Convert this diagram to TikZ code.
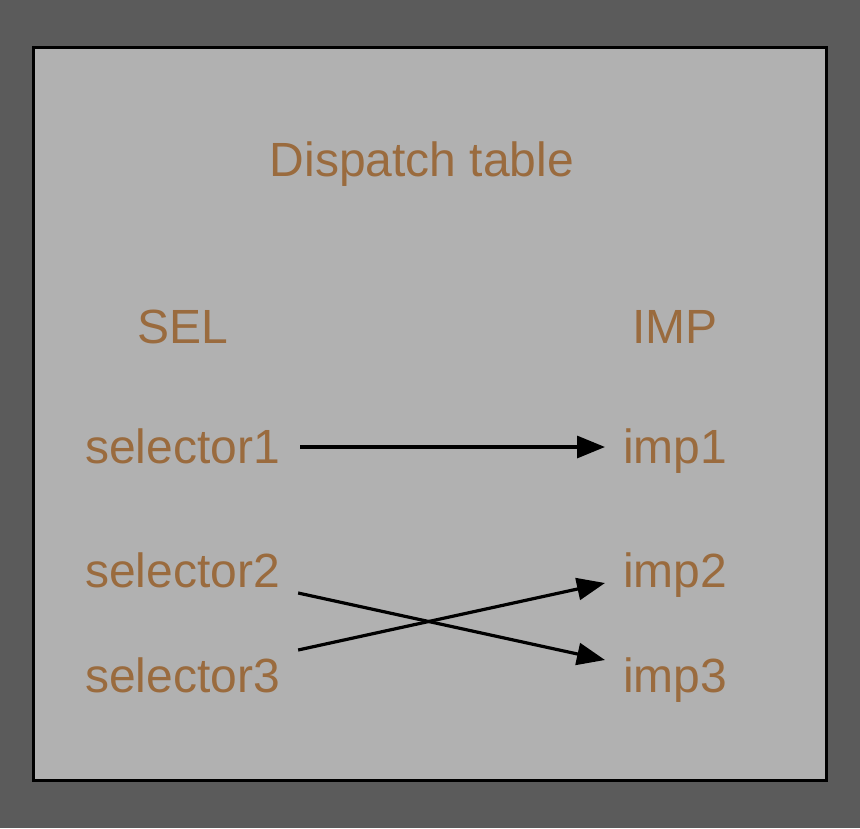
\documentclass[tikz,border=0pt]{standalone}
\usepackage{fontspec}
\setmainfont{Liberation Sans}
\usetikzlibrary{arrows.meta}
\definecolor{bgdark}{HTML}{5B5B5B}
\definecolor{boxgray}{HTML}{B1B1B1}
\definecolor{labelbrown}{HTML}{9A6B3E}
\tikzset{
  lbl/.style={text=labelbrown, font=\fontsize{48pt}{50pt}\selectfont, inner sep=0pt, anchor=base west},
  ttl/.style={text=labelbrown, font=\fontsize{48pt}{50pt}\selectfont, inner sep=0pt, anchor=base},
  conn/.style={line width=3.2pt, -{Triangle[length=28pt,width=22pt]}}
}
\begin{document}
\begin{tikzpicture}[x=1pt,y=-1pt]
\fill[bgdark] (0,0) rectangle (860,828);
\useasboundingbox (0,0) rectangle (860,828);
\draw[line width=3pt, fill=boxgray] (33,47) rectangle (826,780);
\node[ttl] (title) at (422,176) {Dispatch table};
\node[ttl] (sel) at (183,343) {SEL};
\node[ttl] (imp) at (675,343) {IMP};
\node[lbl] (s1) at (85,463) {selector1};
\node[lbl] (s2) at (85,587) {selector2};
\node[lbl] (s3) at (85,692) {selector3};
\node[lbl] (i1) at (623,463) {imp1};
\node[lbl] (i2) at (623,587) {imp2};
\node[lbl] (i3) at (623,692) {imp3};
\draw[conn] ([shift={(20,-16)}]s1.base east) -- ([shift={(-18,-16)}]i1.base west);
\draw[conn] ([shift={(18,6)}]s2.base east) -- ([shift={(-18,-32)}]i3.base west);
\draw[conn] ([shift={(18,-42)}]s3.base east) -- ([shift={(-18,-4)}]i2.base west);
\end{tikzpicture}
\end{document}
